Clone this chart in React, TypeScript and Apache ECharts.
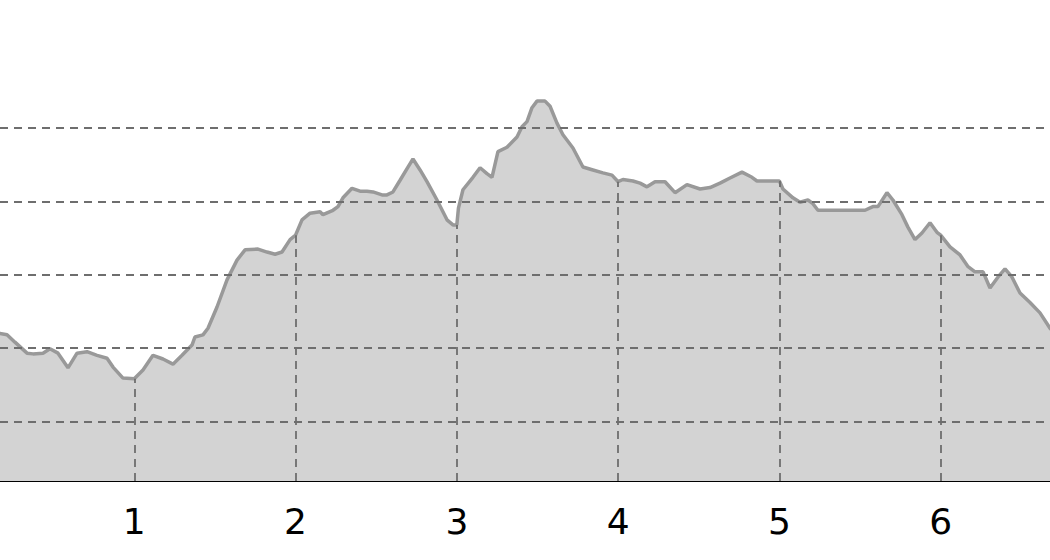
import React, { useEffect, useRef } from "react";
import * as echarts from "echarts";

// distance (x) and elevation (y) of the profile
const distance = [
  0.1, 0.167, 0.211, 0.26, 0.335, 0.372, 0.434, 0.477, 0.527, 0.589, 0.645, 0.707, 0.769, 0.831, 0.868, 0.93,
  1.0, 1.054, 1.116, 1.178, 1.24, 1.296, 1.358, 1.376, 1.426, 1.457, 1.513, 1.575, 1.637, 1.687, 1.767, 1.823,
  1.873, 1.916, 1.966, 2.0, 2.04, 2.09, 2.152, 2.17, 2.232, 2.263, 2.294, 2.35, 2.4, 2.443, 2.48, 2.536, 2.567,
  2.604, 2.648, 2.697, 2.728, 2.772, 2.815, 2.877, 2.939, 2.976, 3.0, 3.01, 3.038, 3.1, 3.144, 3.187, 3.218,
  3.255, 3.311, 3.373, 3.404, 3.435, 3.466, 3.497, 3.547, 3.578, 3.621, 3.658, 3.72, 3.782, 3.844, 3.906, 3.962,
  4.0, 4.03, 4.092, 4.136, 4.179, 4.229, 4.291, 4.353, 4.427, 4.508, 4.57, 4.632, 4.694, 4.768, 4.83, 4.861,
  5.0, 5.022, 5.084, 5.128, 5.177, 5.208, 5.239, 5.531, 5.58, 5.611, 5.667, 5.704, 5.76, 5.797, 5.841, 5.884,
  5.934, 5.977, 6.0, 6.058, 6.12, 6.17, 6.213, 6.263, 6.306, 6.356, 6.399, 6.442, 6.492, 6.554, 6.616, 6.678,
  6.771,
];
const elevation = [
  227, 220, 218, 208, 193, 192, 193, 199, 193, 173, 193, 195, 190, 186, 174, 159,
  158, 170, 190, 185, 178, 190, 204, 215, 218, 227, 256, 293, 320, 334, 335, 331,
  328, 331, 348, 354, 375, 384, 386, 382, 388, 393, 405, 418, 414, 414, 413, 409, 409,
  413, 429, 447, 458, 443, 427, 402, 375, 368, 368, 391, 416, 433, 446, 438, 433,
  468, 474, 488, 502, 509, 528, 537, 537, 530, 507, 491, 473, 447, 443, 439, 436,
  427, 430, 428, 425, 420, 427, 427, 412, 423, 417, 419, 425, 432, 440, 433, 428,
  428, 417, 405, 399, 402, 397, 388, 388, 393, 393, 412, 402, 382, 365, 348, 357,
  371, 358, 354, 338, 327, 311, 304, 304, 282, 297, 308, 297, 275, 262, 248, 227,
  204,
];
const kmTicks = [1, 2, 3, 4, 5, 6];
const gridLevels = [100, 200, 300, 400, 500];

const X_MIN = 0.1674;
const X_MAX = 6.678;
const Y_MIN = 18.5;
const Y_MAX = 675;

export default function App() {
  const ref = useRef<HTMLDivElement>(null);

  useEffect(() => {
    if (!ref.current) return;
    const chart = echarts.init(ref.current, undefined, { renderer: "svg" });
    const points = distance.map((d, i) => [d, elevation[i]]);
    const valueAt = (k: number) => {
      const idx = distance.findIndex((d) => Math.abs(d - k) < 1e-9);
      return elevation[idx];
    };
    const dash = { type: [8, 6] as any, color: "#6e6e6e", width: 1.8 };

    chart.setOption({
      animation: false,
      grid: { left: 0, right: 0, top: 0, bottom: 79, containLabel: false },
      xAxis: {
        type: "value",
        min: X_MIN,
        max: X_MAX,
        axisLine: { show: true, lineStyle: { color: "#000", width: 2 } },
        axisTick: { show: false, customValues: kmTicks },
        splitLine: { show: false },
        axisLabel: {
          color: "#000",
          fontFamily: "DejaVu Sans",
          fontSize: 36,
          margin: 22,
          customValues: kmTicks,
          formatter: (v: number) => String(v),
        },
      },
      yAxis: {
        type: "value",
        min: Y_MIN,
        max: Y_MAX,
        axisLine: { show: false },
        axisTick: { show: false },
        axisLabel: { show: false },
        splitLine: { show: false },
      },
      series: [
        {
          type: "line",
          data: points,
          showSymbol: false,
          symbol: "none",
          clip: true,
          lineStyle: { color: "#999999", width: 3.5 },
          areaStyle: { color: "#d3d3d3", opacity: 1, origin: "start" },
          z: 2,
          markLine: {
            silent: true,
            symbol: ["none", "none"],
            label: { show: false },
            lineStyle: dash,
            data: [
              ...gridLevels.map((v) => ({ yAxis: v })),
              ...kmTicks.map((k) => [
                { coord: [k, Y_MIN] },
                { coord: [k, valueAt(k)] },
              ]),
            ],
          },
        },
      ],
    });
    return () => chart.dispose();
  }, []);

  return (
    <div
      ref={ref}
      style={{ position: "fixed", left: 0, top: 0, width: 1050, height: 560, background: "#fff" }}
    />
  );
}
